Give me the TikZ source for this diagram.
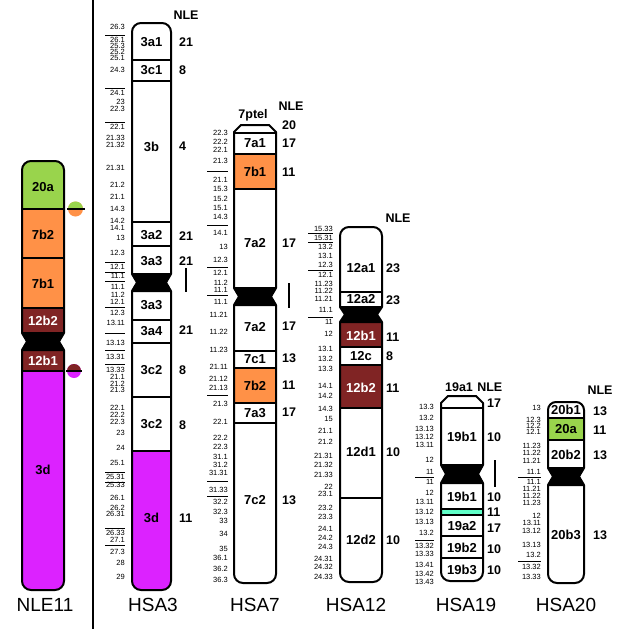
\documentclass[tikz,border=0pt]{standalone}
\usepackage{fontspec}
\setmainfont{Liberation Sans}
\usetikzlibrary{positioning}

\definecolor{cgreen}{RGB}{153,212,76}
\definecolor{corange}{RGB}{255,145,71}
\definecolor{cred}{RGB}{128,36,36}
\definecolor{cmagenta}{RGB}{220,34,255}
\definecolor{ccyan}{RGB}{96,255,200}

\begin{document}
\begin{tikzpicture}[x=1pt, y=-1pt,
        chromo/.style={line width=2pt, line join=round},
        sep/.style={line width=2pt},
        centro/.style={fill=black, draw=black, line width=2pt, line join=round},
        tick/.style={line width=0.7pt},
        band/.style={font=\fontsize{13}{13}\selectfont\bfseries, inner sep=0pt},
        wband/.style={band, text=white},
        nle/.style={font=\fontsize{12.5}{12.5}\selectfont\bfseries, inner sep=0pt},
        num/.style={nle, anchor=west},
        bandpos/.style={font=\fontsize{7.5}{7.5}\selectfont, anchor=east, inner sep=0pt},
        chrname/.style={font=\fontsize{19}{19}\selectfont, inner sep=0pt}
    ]

    \fill[white] (0,0) rectangle (624,629);
    \useasboundingbox (0,0) rectangle (624,629);

    % Divider
    \draw[line width=2pt] (93,0) -- (93,629);

    % NLE11
    \begin{scope}
        \clip[rounded corners=9] (22,350) -- (22,161) -- (64,161) -- (64,350) -- cycle;
        \fill[cgreen] (22,161) rectangle (64,209);
        \fill[corange] (22,209) rectangle (64,308);
        \fill[cred] (22,308) rectangle (64,333);
        \draw[sep] (22,209) -- (64,209);
        \draw[sep] (22,258) -- (64,258);
        \draw[sep] (22,308) -- (64,308);
    \end{scope}
    \draw[chromo, rounded corners=9] (22,333) -- (22,161) -- (64,161) -- (64,333);
    \begin{scope}
        \clip[rounded corners=9] (22,333) -- (22,590) -- (64,590) -- (64,333) -- cycle;
        \fill[cred] (22,350) rectangle (64,371);
        \fill[cmagenta] (22,371) rectangle (64,590);
        \draw[sep] (22,371) -- (64,371);
    \end{scope}
    \draw[chromo, rounded corners=9] (22,350) -- (22,590) -- (64,590) -- (64,350);
    \filldraw[centro] (22,333) -- (64,333) -- (59,341.5) -- (64,350) -- (22,350) -- (27,341.5) -- cycle;

    \node[band] (n20a) at (43,187) {20a};
    \node[band] (n7b2) at (43,235) {7b2};
    \node[band] (n7b1) at (43,284) {7b1};
    \node[wband] (n12b2) at (43,321) {12b2};
    \node[wband] (n12b1) at (43,361) {12b1};
    \node[band] (n3d) at (43,470) {3d};

    % Markers
    \fill[corange] (75.5,209) circle (7.5);
    \begin{scope}
        \clip (66,200) rectangle (86,209);
        \fill[cgreen] (75.5,209) circle (7.5);
    \end{scope}
    \draw[line width=1.5pt] (67,209) -- (85,209);
    \fill[cmagenta] (74,371) circle (7);
    \begin{scope}
        \clip (65,362) rectangle (83,371);
        \fill[cred] (74,371) circle (7);
    \end{scope}
    \draw[line width=1.5pt] (66,371) -- (82,371);

    % HSA3
    \begin{scope}
        \clip[rounded corners=9] (132,291) -- (132,23) -- (171,23) -- (171,291) -- cycle;
        \draw[sep] (132,60) -- (171,60);
        \draw[sep] (132,81) -- (171,81);
        \draw[sep] (132,222) -- (171,222);
        \draw[sep] (132,246) -- (171,246);
    \end{scope}
    \draw[chromo, rounded corners=9] (132,274) -- (132,23) -- (171,23) -- (171,274);
    \begin{scope}
        \clip[rounded corners=9] (132,274) -- (132,590) -- (171,590) -- (171,274) -- cycle;
        \fill[cmagenta] (132,451) rectangle (171,590);
        \draw[sep] (132,320) -- (171,320);
        \draw[sep] (132,343) -- (171,343);
        \draw[sep] (132,397) -- (171,397);
        \draw[sep] (132,451) -- (171,451);
    \end{scope}
    \draw[chromo, rounded corners=9] (132,291) -- (132,590) -- (171,590) -- (171,291);
    \filldraw[centro] (132,274) -- (171,274) -- (166,282.5) -- (171,291) -- (132,291) -- (137,282.5) -- cycle;

    \node[band] (h3a1) at (151.5,42) {3a1};
    \node[band] (h3c1) at (151.5,70.5) {3c1};
    \node[band] (h3b) at (151.5,147) {3b};
    \node[band] (h3a2) at (151.5,235) {3a2};
    \node[band] (h3a3) at (151.5,261) {3a3};
    \node[band] (h3a3b) at (151.5,305) {3a3};
    \node[band] (h3a4) at (151.5,331.5) {3a4};
    \node[band] (h3c2) at (151.5,370) {3c2};
    \node[band] (h3c2b) at (151.5,424) {3c2};
    \node[band] (h3d) at (151.5,518) {3d};

    \node[nle] (nle3) at (186,15) {NLE};
    \foreach \y/\t [count=\i] in {42/21, 70/8, 146/4, 236/21, 261/21, 330/21, 370/8, 425/8, 518/11}
        \node[num] (r3-\i) at (179,\y) {\t};
    \draw[line width=2pt] (186,268) -- (186,292);

    \foreach \y/\t [count=\i] in {27/26.3, 40/26.1, 46/25.3, 52/25.2, 58/25.1, 70/24.3, 93/24.1,
        102/23, 109/22.3, 127/22.1, 138/21.33, 145/21.32, 168/21.31, 185/21.2, 197/21.1,
        209/14.3, 221/14.2, 228/14.1, 238/13, 253/12.3, 267/12.1, 276/11.1, 287/11.1,
        295/11.2, 302/12.1, 313/12.3, 323/13.11, 343/13.13, 357/13.31, 370/13.33,
        377/21.1, 384/21.2, 390/21.3, 408/22.1, 415/22.2, 422/22.3, 433/23, 448/24,
        463/25.1, 477/25.31, 485/25.33, 498/26.1, 508/26.2, 514/26.31, 533/26.33,
        540/27.1, 552/27.3, 563/28, 577/29}
        \node[bandpos] (p3-\i) at (125,\y) {\t};
    \foreach \y in {35, 88, 122, 262, 272, 281, 307, 333, 350, 364, 472, 482, 528, 545}
        \draw[tick] (105,\y) -- (125,\y);

    % HSA7
    \begin{scope}
        \clip (234,305) -- (234,132) -- (241,125) -- (269,125) -- (276,132) -- (276,305) -- cycle;
        \fill[corange] (234,154) rectangle (276,189);
        \draw[sep] (234,133) -- (276,133);
        \draw[sep] (234,154) -- (276,154);
        \draw[sep] (234,189) -- (276,189);
    \end{scope}
    \draw[chromo] (234,288) -- (234,132) -- (241,125) -- (269,125) -- (276,132) -- (276,288);
    \begin{scope}
        \clip[rounded corners=9] (234,288) -- (234,583) -- (276,583) -- (276,288) -- cycle;
        \fill[corange] (234,368) rectangle (276,403);
        \draw[sep] (234,351) -- (276,351);
        \draw[sep] (234,368) -- (276,368);
        \draw[sep] (234,403) -- (276,403);
        \draw[sep] (234,423) -- (276,423);
    \end{scope}
    \draw[chromo, rounded corners=9] (234,305) -- (234,583) -- (276,583) -- (276,305);
    \filldraw[centro] (234,288) -- (276,288) -- (271,296.5) -- (276,305) -- (234,305) -- (239,296.5) -- cycle;

    \node[band] (h7a1) at (255,143.5) {7a1};
    \node[band] (h7b1) at (255,171.5) {7b1};
    \node[band] (h7a2) at (255,243) {7a2};
    \node[band] (h7a2b) at (255,327) {7a2};
    \node[band] (h7c1) at (255,359.5) {7c1};
    \node[band] (h7b2) at (255,385.5) {7b2};
    \node[band] (h7a3) at (255,413) {7a3};
    \node[band] (h7c2) at (255,500) {7c2};

    \node[nle] (ptel7) at (253,115) {7ptel};
    \node[nle] (nle7) at (291,106) {NLE};
    \foreach \y/\t [count=\i] in {125/20, 143/17, 172/11, 243/17, 326/17, 358/13, 385/11, 412/17, 500/13}
        \node[num] (r7-\i) at (282,\y) {\t};
    \draw[line width=2pt] (289,283) -- (289,308);

    \foreach \y/\t [count=\i] in {133/22.3, 142/22.2, 150/22.1, 161/21.3, 180/21.1, 189/15.3,
        199/15.2, 208/15.1, 217/14.3, 233/14.1, 247/13, 260/12.3, 273/12.1, 283/11.2,
        290/11.1, 302/11.1, 315/11.21, 332/11.22, 350/11.23, 367/21.11, 379/21.12,
        388/21.13, 404/21.3, 422/22.1, 438/22.2, 447/22.3, 457/31.1, 465/31.2,
        473/31.31, 490/31.33, 502/32.2, 512/32.3, 521/33, 534/34, 549/35, 558/36.1,
        569/36.2, 580/36.3}
        \node[bandpos] (p7-\i) at (228,\y) {\t};
    \foreach \y in {171, 225, 267, 295, 395, 481, 496}
        \draw[tick] (207,\y) -- (228,\y);

    % HSA12
    \begin{scope}
        \clip[rounded corners=9] (340,322) -- (340,227) -- (382,227) -- (382,322) -- cycle;
        \draw[sep] (340,292) -- (382,292);
    \end{scope}
    \draw[chromo, rounded corners=9] (340,307) -- (340,227) -- (382,227) -- (382,307);
    \begin{scope}
        \clip[rounded corners=9] (340,307) -- (340,582) -- (382,582) -- (382,307) -- cycle;
        \fill[cred] (340,322) rectangle (382,347);
        \fill[cred] (340,365) rectangle (382,408);
        \draw[sep] (340,347) -- (382,347);
        \draw[sep] (340,365) -- (382,365);
        \draw[sep] (340,408) -- (382,408);
        \draw[sep] (340,498) -- (382,498);
    \end{scope}
    \draw[chromo, rounded corners=9] (340,322) -- (340,582) -- (382,582) -- (382,322);
    \filldraw[centro] (340,307) -- (382,307) -- (377,314.5) -- (382,322) -- (340,322) -- (345,314.5) -- cycle;

    \node[band] (h12a1) at (361,268) {12a1};
    \node[band] (h12a2) at (361,299.5) {12a2};
    \node[wband] (h12b1) at (361,335.5) {12b1};
    \node[band] (h12c) at (361,356) {12c};
    \node[wband] (h12b2) at (361,387.5) {12b2};
    \node[band] (h12d1) at (361,452) {12d1};
    \node[band] (h12d2) at (361,540) {12d2};

    \node[nle] (nle12) at (398,218) {NLE};
    \foreach \y/\t [count=\i] in {268/23, 300/23, 337/11, 356/8, 388/11, 452/10, 540/10}
        \node[num] (r12-\i) at (386,\y) {\t};

    \foreach \y/\t [count=\i] in {229/15.33, 238/15.31, 247/13.2, 256/13.1, 265/12.3, 275/12.1,
        284/11.23, 291/11.22, 299/11.21, 310/11.1, 322/11, 334/12, 349/13.1, 359/13.2,
        369/13.3, 386/14.1, 396/14.2, 409/14.3, 419/15, 431/21.1, 442/21.2, 456/21.31,
        465/21.32, 475/21.33, 487/22, 494/23.1, 508/23.2, 517/23.3, 529/24.1, 538/24.2,
        547/24.3, 559/24.31, 567/24.32, 577/24.33}
        \node[bandpos] (p12-\i) at (333,\y) {\t};
    \foreach \y in {233, 242, 270, 317}
        \draw[tick] (308,\y) -- (333,\y);

    % HSA19
    \begin{scope}
        \clip (441,483) -- (441,403) -- (448,396) -- (476,396) -- (483,403) -- (483,483) -- cycle;
        \draw[sep] (441,408) -- (483,408);
    \end{scope}
    \draw[chromo] (441,465) -- (441,403) -- (448,396) -- (476,396) -- (483,403) -- (483,465);
    \begin{scope}
        \clip[rounded corners=9] (441,465) -- (441,581) -- (483,581) -- (483,465) -- cycle;
        \fill[ccyan] (441,509) rectangle (483,515);
        \draw[sep] (441,509) -- (483,509);
        \draw[sep] (441,515) -- (483,515);
        \draw[sep] (441,536) -- (483,536);
        \draw[sep] (441,558) -- (483,558);
    \end{scope}
    \draw[chromo, rounded corners=9] (441,483) -- (441,581) -- (483,581) -- (483,483);
    \filldraw[centro] (441,465) -- (483,465) -- (478,474) -- (483,483) -- (441,483) -- (446,474) -- cycle;

    \node[band] (h19b1) at (462,437) {19b1};
    \node[band] (h19b1b) at (462,496.5) {19b1};
    \node[band] (h19a2) at (462,526) {19a2};
    \node[band] (h19b2) at (462,547.5) {19b2};
    \node[band] (h19b3) at (462,570) {19b3};

    \node[nle] (cap19) at (459,387) {19a1};
    \node[nle, right=4pt of cap19] (nle19) {NLE};
    \foreach \y/\t [count=\i] in {403/17, 437/10, 497/10, 512/11, 528/17, 549/10, 570/10}
        \node[num] (r19-\i) at (487,\y) {\t};
    \draw[line width=2pt] (495,460) -- (495,487);

    \foreach \y/\t [count=\i] in {407/13.3, 418/13.2, 429/13.13, 437/13.12, 445/13.11, 460/12,
        472/11, 482/11, 493/12, 502/13.11, 512/13.12, 522/13.13, 533/13.2, 546/13.32,
        554/13.33, 565/13.41, 574/13.42, 582/13.43}
        \node[bandpos] (p19-\i) at (434,\y) {\t};
    \foreach \y in {477, 540}
        \draw[tick] (415,\y) -- (434,\y);

    % HSA20
    \begin{scope}
        \clip[rounded corners=8] (548,485) -- (548,402) -- (584,402) -- (584,485) -- cycle;
        \fill[cgreen] (548,418) rectangle (584,440);
        \draw[sep] (548,418) -- (584,418);
        \draw[sep] (548,440) -- (584,440);
    \end{scope}
    \draw[chromo, rounded corners=8] (548,468) -- (548,402) -- (584,402) -- (584,468);
    \draw[chromo, rounded corners=9] (548,485) -- (548,583) -- (584,583) -- (584,485);
    \filldraw[centro] (548,468) -- (584,468) -- (579,476.5) -- (584,485) -- (548,485) -- (553,476.5) -- cycle;

    \node[band] (h20b1) at (566,410) {20b1};
    \node[band] (h20a) at (566,429.5) {20a};
    \node[band] (h20b2) at (566,455) {20b2};
    \node[band] (h20b3) at (566,535) {20b3};

    \node[nle] (nle20) at (600,390) {NLE};
    \foreach \y/\t [count=\i] in {411/13, 430/11, 455/13, 535/13}
        \node[num] (r20-\i) at (593,\y) {\t};

    \foreach \y/\t [count=\i] in {408/13, 420/12.3, 426/12.2, 432/12.1, 446/11.23, 453/11.22,
        461/11.21, 472/11.1, 482/11.1, 489/11.21, 496/11.22, 503/11.23, 516/12, 523/13.11,
        531/13.12, 545/13.13, 555/13.2, 567/13.32, 577/13.33}
        \node[bandpos] (p20-\i) at (541,\y) {\t};
    \foreach \y in {477, 561}
        \draw[tick] (518,\y) -- (541,\y);

    % Chromosome names
    \node[chrname] (nNLE11) at (45,605) {NLE11};
    \node[chrname] (nHSA3) at (153,605) {HSA3};
    \node[chrname] (nHSA7) at (255,605) {HSA7};
    \node[chrname] (nHSA12) at (356,605) {HSA12};
    \node[chrname] (nHSA19) at (466,605) {HSA19};
    \node[chrname] (nHSA20) at (566,605) {HSA20};

\end{tikzpicture}
\end{document}
